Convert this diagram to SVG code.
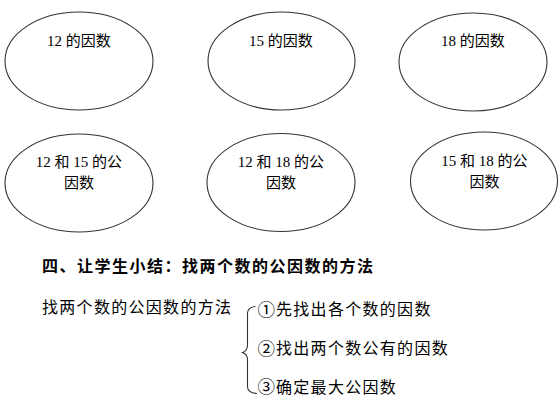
<svg xmlns="http://www.w3.org/2000/svg" width="560" height="404" viewBox="0 0 560 404">
<style>
.e{fill:none;stroke:#333;stroke-width:1.1}
.lbl{font-family:"Liberation Serif","Noto Sans CJK SC",serif;font-size:15px;fill:#000;text-anchor:middle}
.t{font-family:"Noto Sans CJK SC",sans-serif;font-size:16px;fill:#000;letter-spacing:1.3px}
.b{font-weight:bold;letter-spacing:1.5px}
.br{fill:none;stroke:#333;stroke-width:1.1}
.cn{font-size:17.5px;letter-spacing:0}
</style>
<rect width="560" height="404" fill="#fff"/>
<g id="n12">
<ellipse class="e" cx="79" cy="61" rx="74" ry="49"/>
<text class="lbl" x="79" y="45.5">12 的因数</text>
</g>
<g id="n15">
<ellipse class="e" cx="281.5" cy="61" rx="73.5" ry="49"/>
<text class="lbl" x="281" y="45.5">15 的因数</text>
</g>
<g id="n18">
<ellipse class="e" cx="473" cy="62" rx="74" ry="49"/>
<text class="lbl" x="473" y="45.5">18 的因数</text>
</g>
<g id="c1215">
<ellipse class="e" cx="79" cy="183" rx="74" ry="49"/>
<text class="lbl" x="79" y="167">12 和 15 的公</text>
<text class="lbl" x="79" y="188">因数</text>
</g>
<g id="c1218">
<ellipse class="e" cx="281" cy="182.5" rx="74" ry="49"/>
<text class="lbl" x="281" y="167">12 和 18 的公</text>
<text class="lbl" x="281" y="188">因数</text>
</g>
<g id="c1518">
<ellipse class="e" cx="484" cy="181" rx="73.5" ry="49"/>
<text class="lbl" x="484.5" y="166">15 和 18 的公</text>
<text class="lbl" x="484.5" y="187">因数</text>
</g>
<g id="title">
<text class="t b" x="42" y="272">四、让学生小结：找两个数的公因数的方法</text>
</g>
<g id="method">
<text class="t" x="42" y="313">找两个数的公因数的方法</text>
</g>
<g id="brace">
<path class="br" d="M255.5,306.5 Q248,307 247.5,313 L247.5,346 Q247,351 242.5,352.5 Q247,354 247.5,359 L247.5,387 Q248,393 257,393.5"/>
</g>
<g id="steps">
<text class="t" x="257.5" y="315.5"><tspan class="cn">①</tspan><tspan x="276" y="315">先找出各个数的因数</tspan></text>
<text class="t" x="257.5" y="354.5"><tspan class="cn">②</tspan><tspan x="276" y="354">找出两个数公有的因数</tspan></text>
<text class="t" x="257.5" y="393"><tspan class="cn">③</tspan><tspan x="276" y="392.5">确定最大公因数</tspan></text>
</g>
</svg>
